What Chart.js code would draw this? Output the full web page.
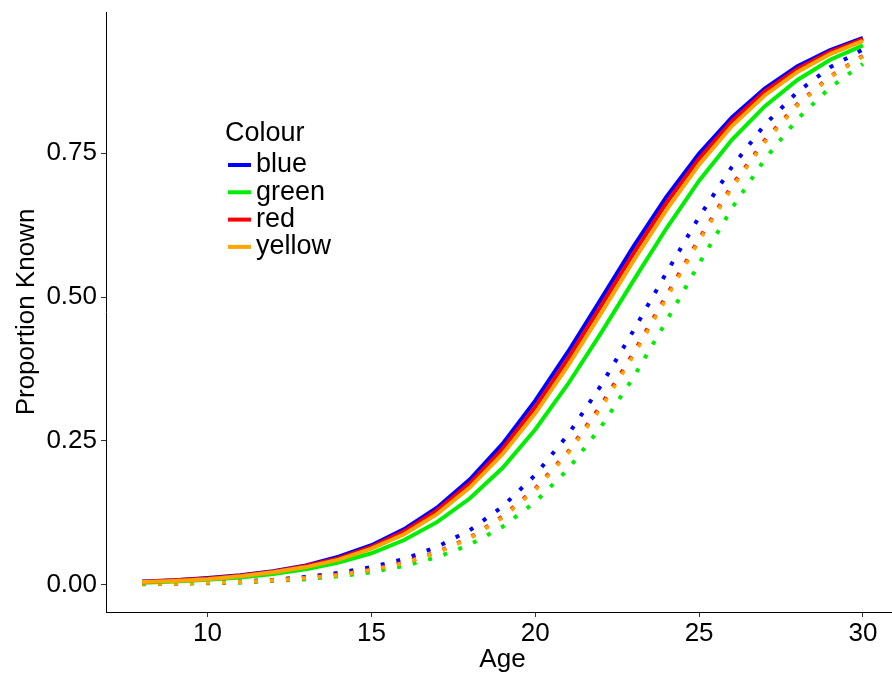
<!DOCTYPE html>
<html>
<head>
<meta charset="utf-8">
<script src="https://cdn.jsdelivr.net/npm/chart.js@4"></script>
<style>
  html, body { margin: 0; padding: 0; background: #fff; overflow: hidden; }
  #wrap { position: absolute; left: 0; top: 0; width: 900px; height: 675px; }
</style>
</head>
<body>
<div id="wrap"><canvas id="chart" width="900" height="675"></canvas></div>
<script>
// Age values on the x axis
const ages = [8, 9, 10, 11, 12, 13, 14, 15, 16, 17, 18, 19, 20, 21, 22, 23, 24, 25, 26, 27, 28, 29, 30];

// Solid lines
const blueSolid   = [0.006, 0.008, 0.012, 0.017, 0.024, 0.034, 0.049, 0.069, 0.097, 0.134, 0.183, 0.245, 0.320, 0.405, 0.496, 0.588, 0.674, 0.749, 0.812, 0.862, 0.901, 0.929, 0.950];
const greenSolid  = [0.004, 0.006, 0.009, 0.013, 0.019, 0.027, 0.039, 0.055, 0.078, 0.109, 0.150, 0.203, 0.270, 0.349, 0.437, 0.529, 0.619, 0.702, 0.773, 0.831, 0.877, 0.912, 0.937];
const redSolid    = [0.005, 0.008, 0.011, 0.016, 0.023, 0.033, 0.046, 0.066, 0.093, 0.129, 0.176, 0.236, 0.309, 0.393, 0.484, 0.576, 0.663, 0.740, 0.805, 0.857, 0.896, 0.926, 0.948];
const yellowSolid = [0.005, 0.007, 0.010, 0.015, 0.022, 0.031, 0.044, 0.063, 0.088, 0.123, 0.169, 0.227, 0.298, 0.381, 0.471, 0.563, 0.651, 0.730, 0.797, 0.850, 0.891, 0.922, 0.945];

// Dotted lines
const blueDotted   = [0.002, 0.003, 0.004, 0.006, 0.009, 0.014, 0.021, 0.031, 0.045, 0.066, 0.095, 0.136, 0.191, 0.261, 0.346, 0.442, 0.542, 0.639, 0.726, 0.799, 0.856, 0.899, 0.930];
const greenDotted  = [0.001, 0.002, 0.003, 0.004, 0.007, 0.010, 0.015, 0.022, 0.033, 0.048, 0.070, 0.101, 0.144, 0.201, 0.274, 0.361, 0.458, 0.558, 0.654, 0.739, 0.809, 0.864, 0.905];
const redDotted    = [0.002, 0.002, 0.004, 0.005, 0.008, 0.012, 0.018, 0.026, 0.039, 0.057, 0.082, 0.119, 0.167, 0.231, 0.311, 0.403, 0.502, 0.601, 0.693, 0.772, 0.835, 0.883, 0.919];
const yellowDotted = [0.002, 0.002, 0.004, 0.005, 0.008, 0.012, 0.017, 0.026, 0.038, 0.056, 0.081, 0.117, 0.165, 0.229, 0.307, 0.399, 0.498, 0.598, 0.690, 0.769, 0.833, 0.882, 0.918];

const colourNames = ['blue', 'green', 'red', 'yellow'];
const xTicks = [10, 15, 20, 25, 30];
const yTicks = [0, 0.25, 0.5, 0.75];

const colours = { blue: '#0000ff', green: '#00ee00', red: '#ff0000', yellow: '#ffa500' };
const FONT = 'Liberation Sans, Arial, sans-serif';

const pts = vals => ages.map((a, i) => ({ x: a, y: vals[i] }));

function solid(name, vals, order) {
    return {
        label: name, data: pts(vals), borderColor: colours[name],
        borderWidth: 4, pointRadius: 0, tension: 0, fill: false, order: order
    };
}
function dotted(name, vals, order) {
    return {
        label: name + ' dotted', data: pts(vals), borderColor: colours[name],
        borderWidth: 4, borderDash: [4, 12], borderCapStyle: 'butt',
        pointRadius: 0, tension: 0, fill: false, order: order
    };
}

// simple legend drawn inside the panel, like the original
const legendInside = {
    id: 'legendInside',
    afterDraw(chart) {
        const ctx = chart.ctx;
        ctx.save();
        ctx.font = '27px ' + FONT;
        ctx.fillStyle = '#000';
        ctx.textBaseline = 'middle';
        ctx.textAlign = 'left';
        ctx.fillText('Colour', 225, 134);
        colourNames.forEach((n, i) => {
            const y = 165 + i * 27.3;
            ctx.strokeStyle = colours[n];
            ctx.lineWidth = 4;
            ctx.beginPath();
            ctx.moveTo(228, y);
            ctx.lineTo(251, y);
            ctx.stroke();
            ctx.fillText(n, 256, y);
        });
        ctx.restore();
    }
};

new Chart(document.getElementById('chart').getContext('2d'), {
    type: 'line',
    data: {
        datasets: [
            dotted('blue', blueDotted, 8),
            dotted('green', greenDotted, 7),
            dotted('red', redDotted, 6),
            dotted('yellow', yellowDotted, 5),
            solid('blue', blueSolid, 4),
            solid('green', greenSolid, 3),
            solid('red', redSolid, 2),
            solid('yellow', yellowSolid, 1)
        ]
    },
    options: {
        responsive: false,
        animation: false,
        devicePixelRatio: 1,
        layout: { padding: { top: 12, right: 1, left: 0, bottom: 0 } },
        plugins: { legend: { display: false }, tooltip: { enabled: false } },
        scales: {
            x: {
                type: 'linear', min: 6.9, max: 31.1,
                afterBuildTicks: s => { s.ticks = xTicks.map(v => ({ value: v })); },
                afterFit: s => { s.height = 63; s.paddingLeft = 0; s.paddingRight = 0; },
                grid: { display: true, drawOnChartArea: false, drawTicks: true, tickLength: 5, tickColor: '#333', tickWidth: 1 },
                border: { display: true, color: '#000', width: 1 },
                ticks: { color: '#000', font: { family: FONT, size: 26 }, padding: 1, maxRotation: 0 },
                title: { display: true, text: 'Age', color: '#000', font: { family: FONT, size: 26 }, padding: { top: 0, bottom: 0 } }
            },
            y: {
                type: 'linear', min: -0.047, max: 0.995,
                afterBuildTicks: s => { s.ticks = yTicks.map(v => ({ value: v })); },
                afterFit: s => { s.width = 106; s.paddingTop = 0; s.paddingBottom = 0; },
                grid: { display: true, drawOnChartArea: false, drawTicks: true, tickLength: 5, tickColor: '#333', tickWidth: 1 },
                border: { display: true, color: '#000', width: 1 },
                ticks: { color: '#000', font: { family: FONT, size: 26 }, padding: 4, callback: v => v.toFixed(2) },
                title: { display: true, text: 'Proportion Known', color: '#000', font: { family: FONT, size: 26 }, padding: { top: 11, bottom: 0 } }
            }
        }
    },
    plugins: [legendInside]
});
</script>
</body>
</html>
